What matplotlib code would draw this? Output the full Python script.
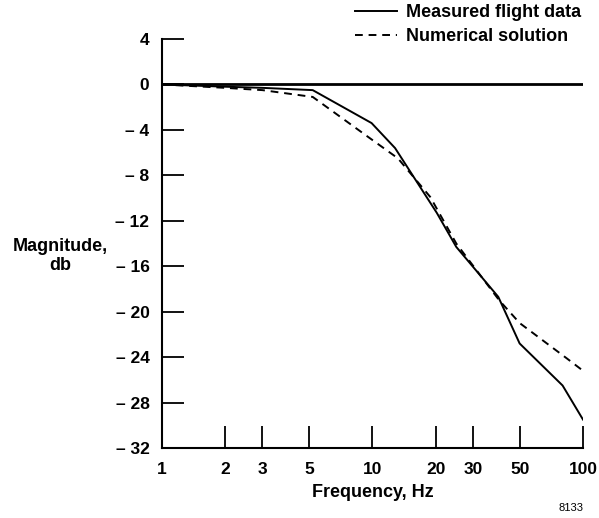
import numpy as np
import matplotlib
matplotlib.use("Agg")
import matplotlib.pyplot as plt

plt.rcParams['font.family'] = ['Liberation Sans', 'DejaVu Sans']
plt.rcParams['font.weight'] = 'bold'

# measured flight data
freq_meas = [1, 2, 3, 5.2, 9.9, 12.8, 20.2, 25, 39.6, 50, 80, 100]
mag_meas = [0, -0.2, -0.3, -0.5, -3.4, -5.6, -11.3, -14.3, -18.7, -22.8, -26.5, -29.5]

# numerical solution
freq_num = [1, 2, 3, 5.2, 9.5, 13.2, 18.8, 25, 40, 50, 83.6, 100]
mag_num = [0, -0.3, -0.5, -1.1, -4.6, -6.5, -9.9, -14.0, -19.0, -21.0, -24.1, -25.2]

xticks = [1, 2, 3, 5, 10, 20, 30, 50, 100]
yticks = [4, 0, -4, -8, -12, -16, -20, -24, -28, -32]

fig = plt.figure(figsize=(5.99, 5.18), dpi=100)
ax = fig.add_axes([162/599, 70/518, 421/599, 409/518])

ax.axhline(0, color='black', lw=2.0)
l1, = ax.plot(freq_meas, mag_meas, color='black', lw=1.4, label='Measured flight data')
l2, = ax.plot(freq_num, mag_num, color='black', lw=1.4, ls=(0, (4, 3)), label='Numerical solution')

ax.set_xscale('log')
ax.set_xlim(1, 100)
ax.set_ylim(-32, 4)
ax.set_xticks(xticks)
ax.set_xticklabels([str(t) for t in xticks])
ax.xaxis.set_minor_locator(matplotlib.ticker.NullLocator())
ax.set_yticks(yticks)
ax.set_yticklabels([str(t) if t >= 0 else '\u2013 ' + str(-t) for t in yticks])

for s in ['top', 'right']:
    ax.spines[s].set_visible(False)
ax.spines['left'].set_linewidth(1.5)
ax.spines['bottom'].set_linewidth(1.5)
ax.tick_params(axis='both', direction='in', length=16, width=1.3, labelsize=12.5)
ax.tick_params(axis='x', pad=10)
ax.tick_params(axis='y', pad=9)

ax.set_xlabel('Frequency, Hz', fontsize=13, fontweight='bold', labelpad=5)
fig.text(60/599, 1 - 256/518, 'Magnitude,\ndb', ha='center', va='center',
         fontsize=13, fontweight='bold', linespacing=1.1)
fig.text(571/599, 1 - 508/518, '8133', ha='center', va='center', fontsize=8, fontweight='normal')

fig.legend(handles=[l1, l2], loc='upper left', bbox_to_anchor=(355/599, 1 - 4/518),
           frameon=False, fontsize=13, handlelength=2.3, handletextpad=0.5,
           labelspacing=0.4, borderaxespad=0.0, borderpad=0.0)

fig.savefig('out.png', dpi=100)
